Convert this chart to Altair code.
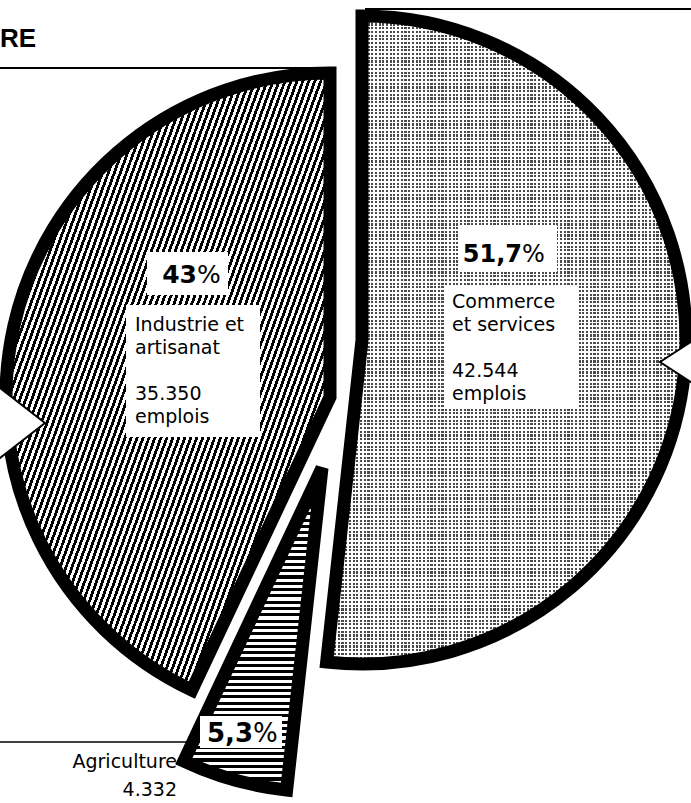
import math
import altair as alt
import pandas as pd

# ---------------- data ----------------
secteurs = ["Commerce et services", "Agriculture", "Industrie et artisanat"]
emplois = [42544, 4332, 35350]
pourcentages = [51.7, 5.3, 43]
lignes_nom = [["Commerce", "et services"], ["Agriculture"], ["Industrie et", "artisanat"]]
unite = "emplois"
titre = "RE"

# ---------------- style / layout ----------------
FONT = "DejaVu Sans"
R = 324
STROKE = 13
centres = {
    "Commerce et services": (362, 340),
    "Agriculture": (322, 468),
    "Industrie et artisanat": (330, 397),
}
pct_pos = {  # right end of bold number, baseline, size
    "Commerce et services": (522, 262, 24),
    "Industrie et artisanat": (197, 283, 25),
    "Agriculture": (253, 742, 26),
}
bloc_pos = {  # x, name baseline, count baseline, align, lineHeight
    "Commerce et services": (452, 308, 377, "left", 23),
    "Industrie et artisanat": (135, 331, 400, "left", 23),
    "Agriculture": (177, 768, 796, "right", 28),
}
boites = [  # white label boxes x, x2, y, y2
    (147, 228, 252, 295),
    (126, 260, 305, 437),
    (458, 557, 225, 272),
    (445, 577, 285, 408),
    (200, 282, 716, 748),
]


def stripes(angle_deg, period, box, dark, light, frac):
    W, H = box
    a = math.radians(angle_deg)
    c, s = math.cos(a), math.sin(a)
    ps = [0, W * c, H * s, W * c + H * s]
    pmin, pmax = min(ps), max(ps)
    L = pmax - pmin
    D = (W * c / L, H * s / L)
    d2 = D[0] ** 2 + D[1] ** 2
    V = (D[0] / d2, D[1] / d2)
    t = pmin / L
    P1 = (t * V[0], t * V[1])
    P2 = (P1[0] + V[0], P1[1] + V[1])
    n = max(1, round(L / period))
    st = []
    for i in range(n):
        o0, o1, o2 = i / n, (i + frac) / n, (i + 1) / n
        st += [(o0, dark), (o1, dark), (o1, light), (o2, light)]
    return alt.LinearGradient(
        gradient="linear",
        stops=[alt.GradientStop(color=col, offset=min(1.0, round(o, 5))) for o, col in st],
        x1=P1[0], y1=P1[1], x2=P2[0], y2=P2[1],
    )


fill_ind = stripes(20, 5.6, (324, 618), "#000000", "#ffffff", 0.5)
fill_agr = stripes(90, 6.3, (138, 322), "#000000", "#ffffff", 0.5)
fill_com_a = stripes(90, 3.7, (359, 648), "#4a4a4a", "#ffffff", 0.58)
fill_com_b = stripes(0, 3.7, (359, 648), "rgba(255,255,255,0)", "#ffffff", 0.58)

# ---------------- table ----------------
def fmt_pct(p):
    return f"{p:g}".replace(".", ",")


def fmt_n(n):
    return f"{n:,}".replace(",", ".")


noms, comptes = [], []
for lignes, n in zip(lignes_nom, emplois):
    noms.append("\n".join(lignes))
    if len(lignes) > 1:
        comptes.append(fmt_n(n) + "\n" + unite)
    else:
        comptes.append(fmt_n(n))

df = pd.DataFrame({
    "secteur": secteurs,
    "emplois": emplois,
    "ordre": list(range(len(secteurs))),
    "pct_txt": [fmt_pct(p) for p in pourcentages],
    "nom": noms,
    "compte": comptes,
})

base = (
    alt.Chart(df)
    .transform_window(cumul="sum(emplois)", sort=[alt.SortField("ordre")], frame=[None, 0])
    .transform_joinaggregate(total="sum(emplois)")
    .transform_calculate(
        t0="2*PI*(datum.cumul - datum.emplois)/datum.total",
        t1="2*PI*datum.cumul/datum.total",
    )
)


def part(secteur, **mark):
    cx, cy = centres[secteur]
    return (
        base.transform_filter(alt.datum.secteur == secteur)
        .mark_arc(radius=R, **mark)
        .encode(
            theta=alt.Theta("t0:Q", scale=None),
            theta2=alt.Theta2("t1"),
            x=alt.value(cx),
            y=alt.value(cy),
        )
    )


layers = [
    part("Commerce et services", fill=fill_com_a),
    part("Commerce et services", fill=fill_com_b),
    part("Agriculture", fill=fill_agr),
    part("Industrie et artisanat", fill=fill_ind),
]
for s in secteurs:
    layers.append(part(s, fill="white", fillOpacity=0, stroke="black", strokeWidth=STROKE,
                       strokeJoin="miter", strokeMiterLimit=4))

one = pd.DataFrame({"k": [0]})

# page rules
for (x1, x2, y, w) in [(365, 691, 9, 2), (0, 330, 68, 2), (0, 198, 742, 1.5), (0, 32, 418, 1.5)]:
    layers.append(
        alt.Chart(one).mark_rule(color="black", strokeWidth=w)
        .encode(x=alt.value(x1), x2=alt.value(x2), y=alt.value(y))
    )

# arrows
layers.append(
    alt.Chart(one).mark_point(shape="M-1,-1.56L1,0L-1,1.56Z", size=2500, filled=True,
                              fill="white", stroke="black", strokeWidth=2, opacity=1)
    .encode(x=alt.value(20), y=alt.value(423))
)
layers.append(
    alt.Chart(one).mark_point(shape="M1,-1.3L-1,0L1,1.3Z", size=1600, filled=True,
                              fill="white", stroke="black", strokeWidth=2, opacity=1)
    .encode(x=alt.value(680), y=alt.value(362))
)

# white boxes
for (x1, x2, y1, y2) in boites:
    layers.append(
        alt.Chart(one).mark_rect(color="white")
        .encode(x=alt.value(x1), x2=alt.value(x2), y=alt.value(y1), y2=alt.value(y2))
    )

# texts
for s in secteurs:
    px, py, fs = pct_pos[s]
    sub = alt.Chart(df).transform_filter(alt.datum.secteur == s)
    layers.append(
        sub.mark_text(font=FONT, fontWeight="bold", fontSize=fs, align="right",
                      baseline="alphabetic", color="black")
        .encode(text="pct_txt:N", x=alt.value(px), y=alt.value(py))
    )
    layers.append(
        sub.mark_text(font=FONT, fontSize=fs, align="left", baseline="alphabetic", color="black")
        .encode(text=alt.value("%"), x=alt.value(px), y=alt.value(py))
    )
    bx, by1, by2, al, lh = bloc_pos[s]
    for champ, by in (("nom", by1), ("compte", by2)):
        layers.append(
            sub.mark_text(font=FONT, fontSize=19, align=al, baseline="alphabetic",
                          lineBreak="\n", lineHeight=lh, color="black")
            .encode(text=f"{champ}:N", x=alt.value(bx), y=alt.value(by))
        )

layers.append(
    alt.Chart(one).mark_text(font="Liberation Sans", fontWeight="bold", fontSize=26,
                             align="right", baseline="alphabetic", color="black")
    .encode(text=alt.value(titre), x=alt.value(36), y=alt.value(47))
)

chart = (
    alt.layer(*layers)
    .properties(width=691, height=803, padding=0,
                autosize=alt.AutoSizeParams(type="none"), background="white")
    .configure_view(stroke=None)
)

chart.save("out.html", embed_options={"renderer": "svg", "actions": False})
